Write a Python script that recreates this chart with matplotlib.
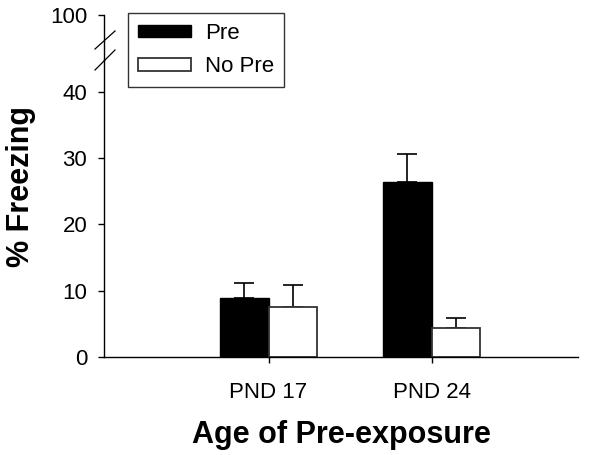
import matplotlib.pyplot as plt
import numpy as np
from matplotlib.lines import Line2D

plt.rcParams['font.family'] = ['Liberation Sans', 'DejaVu Sans']

groups = ['PND 17', 'PND 24']
pre_mean = [8.9, 26.4]
pre_err = [2.3, 4.2]
nopre_mean = [7.5, 4.4]
nopre_err = [3.4, 1.5]
series = ['Pre', 'No Pre']

x = np.arange(len(groups))
w = 0.3

fig = plt.figure(figsize=(6.01, 4.55), dpi=100)
ax = fig.add_axes([0.173, 0.2154, 0.789, 0.6527])
ax_top = fig.add_axes([0.173, 0.8681, 0.789, 0.0989])

# === bars ===
b1 = ax.bar(x - w/2, pre_mean, w, color='black', edgecolor='black', linewidth=1.0,
            label=series[0], zorder=2)
b2 = ax.bar(x + w/2, nopre_mean, w, color='white', edgecolor='#333333', linewidth=1.3,
            label=series[1], zorder=2)
ax.errorbar(x - w/2, pre_mean, yerr=[np.zeros(len(x)), pre_err], fmt='none',
            ecolor='black', elinewidth=1.2, capsize=7, capthick=1.2, zorder=1)
ax.errorbar(x + w/2, nopre_mean, yerr=[np.zeros(len(x)), nopre_err], fmt='none',
            ecolor='black', elinewidth=1.2, capsize=7, capthick=1.2, zorder=1)

# === lower axis ===
ax.set_xlim(-1.01, 1.9)
ax.set_ylim(0, 44.8)
ax.set_yticks([0, 10, 20, 30, 40])
ax.set_xticks(x)
ax.set_xticklabels(groups)
for s in ['top', 'right']:
    ax.spines[s].set_visible(False)
ax.spines['left'].set_linewidth(1.0)
ax.spines['bottom'].set_linewidth(1.0)
ax.tick_params(axis='both', direction='out', length=4, width=1.0,
               labelsize=16, pad=8, colors='black')
ax.tick_params(axis='x', pad=14)
ax.set_xlabel('Age of Pre-exposure', fontsize=22, fontweight='bold', labelpad=12)

# === upper axis (broken) ===
ax_top.set_xlim(-1.01, 1.9)
ax_top.set_ylim(90, 100)
ax_top.set_yticks([100])
ax_top.set_xticks([])
for s in ['top', 'right', 'bottom']:
    ax_top.spines[s].set_visible(False)
ax_top.spines['left'].set_linewidth(1.0)
ax_top.tick_params(axis='y', direction='out', length=4, width=1.0,
                   labelsize=16, pad=8)
ax_top.patch.set_alpha(0)

# break marks
W, H = 601, 455
for (x0, y0, x1, y1) in [(95, 49, 115, 31), (95, 70, 115, 50)]:
    fig.add_artist(Line2D([x0 / W, x1 / W], [1 - y0 / H, 1 - y1 / H],
                          transform=fig.transFigure, color='black', lw=0.9))

fig.text(0.035, 0.59, '% Freezing', rotation=90, fontsize=22, fontweight='bold',
         ha='center', va='center')

leg = fig.legend(handles=[b1, b2], loc='upper left', bbox_to_anchor=(128 / W, 1 - 13 / H),
                 fontsize=16, frameon=True, fancybox=False, edgecolor='black',
                 handlelength=2.4, handleheight=0.5, handletextpad=0.6,
                 labelspacing=0.55, borderpad=0.45, borderaxespad=0)
leg.get_frame().set_linewidth(1.0)

fig.savefig('out.png', dpi=100)
